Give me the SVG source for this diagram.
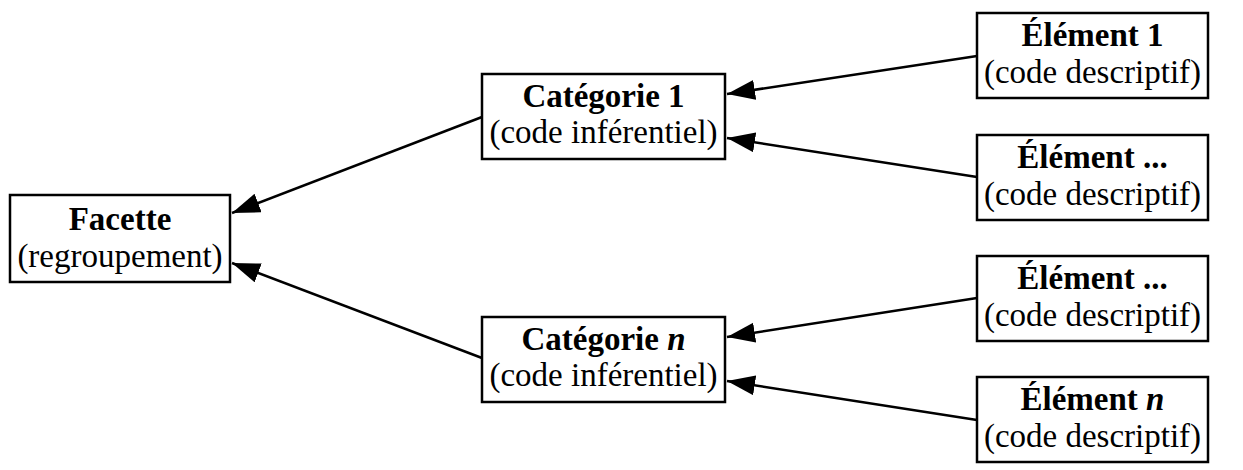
<svg xmlns="http://www.w3.org/2000/svg" width="1243" height="470" viewBox="0 0 1243 470">
<style>
.box{fill:#fff;stroke:#000;stroke-width:2.5}
.t1{font-family:"Liberation Serif","Times New Roman",serif;font-size:33px;font-weight:bold;text-anchor:middle;fill:#000}
.t2{font-family:"Liberation Serif","Times New Roman",serif;font-size:33px;text-anchor:middle;fill:#000}
.edge{stroke:#000;stroke-width:2.5;fill:none;marker-end:url(#arr)}
</style>
<defs>
<marker id="arr" markerUnits="userSpaceOnUse" markerWidth="30" markerHeight="22" refX="28" refY="10" orient="auto">
<path d="M0,0 L28,10 L0,20 z" fill="#000"/>
</marker>
</defs>
<rect width="1243" height="470" fill="#fff"/>
<g id="connectors">
<line class="edge" x1="482" y1="117" x2="232" y2="213"/>
<line class="edge" x1="482" y1="358" x2="232" y2="263"/>
<line class="edge" x1="977" y1="56" x2="727" y2="94"/>
<line class="edge" x1="977" y1="177" x2="727" y2="138"/>
<line class="edge" x1="977" y1="298" x2="727" y2="337"/>
<line class="edge" x1="977" y1="420" x2="727" y2="381"/>
</g>
<g id="facette">
<rect class="box" x="10" y="195" width="220" height="87"/>
<text class="t1" x="120" y="230">Facette</text>
<text class="t2" x="120" y="267">(regroupement)</text>
</g>
<g id="categorie1">
<rect class="box" x="482" y="74" width="243" height="85"/>
<text class="t1" x="603.5" y="107">Catégorie 1</text>
<text class="t2" x="603.5" y="143">(code inférentiel)</text>
</g>
<g id="categorien">
<rect class="box" x="482" y="317" width="243" height="85"/>
<text class="t1" x="603.5" y="350">Catégorie <tspan font-style="italic">n</tspan></text>
<text class="t2" x="603.5" y="386">(code inférentiel)</text>
</g>
<g id="element1">
<rect class="box" x="977" y="13" width="231" height="85"/>
<text class="t1" x="1092.5" y="46">Élément 1</text>
<text class="t2" x="1092.5" y="83">(code descriptif)</text>
</g>
<g id="element2">
<rect class="box" x="977" y="135" width="231" height="85"/>
<text class="t1" x="1092.5" y="168">Élément ...</text>
<text class="t2" x="1092.5" y="205">(code descriptif)</text>
</g>
<g id="element3">
<rect class="box" x="977" y="256" width="231" height="85"/>
<text class="t1" x="1092.5" y="289">Élément ...</text>
<text class="t2" x="1092.5" y="326">(code descriptif)</text>
</g>
<g id="elementn">
<rect class="box" x="977" y="377" width="231" height="85"/>
<text class="t1" x="1092.5" y="410">Élément <tspan font-style="italic">n</tspan></text>
<text class="t2" x="1092.5" y="447">(code descriptif)</text>
</g>
</svg>
